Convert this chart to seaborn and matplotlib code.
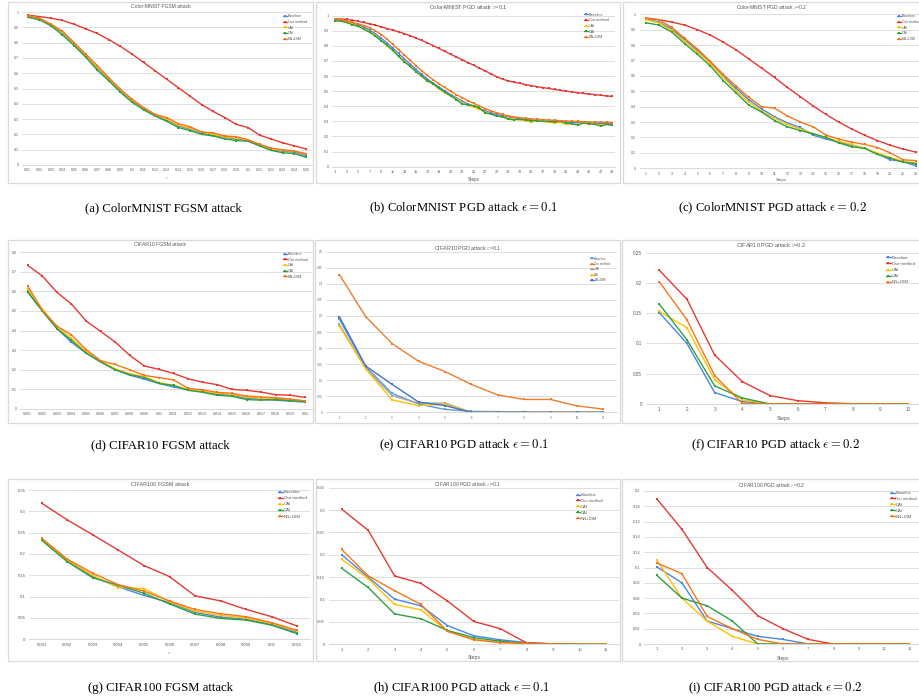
import numpy as np
import pandas as pd
import matplotlib
matplotlib.use("Agg")
import matplotlib.pyplot as plt
import seaborn as sns
from matplotlib.patches import Rectangle

sns.set_theme(style="white")
plt.rcParams['font.family'] = ['Liberation Sans', 'DejaVu Sans']
plt.rcParams['mathtext.fontset'] = 'cm'

METHODS = ["Baseline", "Our method", "UAI", "CAI", "NN+DIM"]
COLORS = ["#4a86e8", "#e53935", "#ffc000", "#2ea043", "#f5761a"]
COLORS_E = ["#5b9bd5", "#ed7d31", "#a5a5a5", "#ffc000", "#4472c4"]

# ---------------- (a) Color-MNIST FGSM ----------------
eps_a = [0.01, 0.02, 0.03, 0.04, 0.05, 0.06, 0.07, 0.08, 0.09, 0.10, 0.11, 0.12, 0.13,
         0.14, 0.15, 0.16, 0.17, 0.18, 0.19, 0.20, 0.21, 0.22, 0.23, 0.24, 0.25]
base_a = [0.97, 0.955, 0.915, 0.865, 0.79, 0.715, 0.635, 0.56, 0.485, 0.42, 0.37, 0.325, 0.295,
          0.255, 0.235, 0.21, 0.195, 0.18, 0.17, 0.16, 0.13, 0.1, 0.09, 0.085, 0.06]
ours_a = [0.98, 0.97, 0.96, 0.945, 0.92, 0.89, 0.86, 0.82, 0.775, 0.725, 0.67, 0.615, 0.56,
          0.505, 0.45, 0.395, 0.35, 0.31, 0.265, 0.245, 0.195, 0.17, 0.145, 0.125, 0.105]
uai_a = [0.975, 0.96, 0.92, 0.87, 0.795, 0.72, 0.64, 0.565, 0.49, 0.425, 0.375, 0.33, 0.3,
         0.26, 0.24, 0.215, 0.2, 0.185, 0.175, 0.165, 0.135, 0.105, 0.095, 0.09, 0.07]
cai_a = [0.965, 0.95, 0.91, 0.85, 0.78, 0.705, 0.62, 0.55, 0.475, 0.41, 0.36, 0.32, 0.285,
         0.245, 0.225, 0.2, 0.19, 0.17, 0.16, 0.155, 0.125, 0.095, 0.08, 0.075, 0.05]
nndim_a = [0.975, 0.96, 0.92, 0.875, 0.8, 0.725, 0.65, 0.57, 0.495, 0.43, 0.375, 0.33, 0.31,
           0.27, 0.25, 0.215, 0.21, 0.19, 0.185, 0.165, 0.135, 0.11, 0.1, 0.09, 0.075]

# ---------------- (b) Color-MNIST PGD eps=0.1 ----------------
steps_b = list(range(1, 50))
base_b = [0.975, 0.97, 0.962, 0.952, 0.94, 0.925, 0.905, 0.88, 0.85, 0.82,
          0.785, 0.75, 0.715, 0.68, 0.645, 0.612, 0.58, 0.553, 0.527, 0.502,
          0.478, 0.456, 0.435, 0.416, 0.4, 0.385, 0.37, 0.357, 0.346, 0.336,
          0.328, 0.322, 0.317, 0.312, 0.308, 0.305, 0.302, 0.3, 0.298, 0.296,
          0.294, 0.292, 0.29, 0.289, 0.288, 0.287, 0.286, 0.285, 0.284]
ours_b = [0.98, 0.978, 0.975, 0.97, 0.963, 0.955, 0.946, 0.937, 0.927, 0.915,
          0.905, 0.893, 0.882, 0.868, 0.853, 0.836, 0.82, 0.802, 0.783, 0.764,
          0.745, 0.727, 0.708, 0.69, 0.672, 0.653, 0.634, 0.615, 0.596, 0.58,
          0.568, 0.56, 0.552, 0.544, 0.537, 0.53, 0.524, 0.518, 0.512, 0.506,
          0.5, 0.495, 0.49, 0.486, 0.481, 0.477, 0.473, 0.469, 0.465]
uai_b = [0.97, 0.965, 0.955, 0.945, 0.93, 0.915, 0.895, 0.87, 0.835, 0.8,
         0.77, 0.735, 0.7, 0.665, 0.63, 0.6, 0.565, 0.545, 0.515, 0.49,
         0.47, 0.45, 0.425, 0.41, 0.395, 0.38, 0.36, 0.35, 0.335, 0.33,
         0.32, 0.315, 0.31, 0.305, 0.295, 0.305, 0.3, 0.295, 0.29, 0.295,
         0.28, 0.285, 0.28, 0.29, 0.28, 0.285, 0.275, 0.28, 0.275]
cai_b = [0.965, 0.965, 0.955, 0.94, 0.93, 0.91, 0.89, 0.865, 0.835, 0.805,
         0.77, 0.73, 0.695, 0.665, 0.63, 0.6, 0.57, 0.55, 0.52, 0.495,
         0.47, 0.445, 0.415, 0.41, 0.405, 0.39, 0.355, 0.35, 0.335, 0.33,
         0.315, 0.31, 0.315, 0.31, 0.305, 0.305, 0.3, 0.3, 0.295, 0.3,
         0.29, 0.285, 0.275, 0.29, 0.285, 0.28, 0.27, 0.28, 0.275]
nndim_b = [0.98, 0.975, 0.965, 0.955, 0.945, 0.935, 0.92, 0.9, 0.875, 0.845,
           0.81, 0.775, 0.74, 0.705, 0.67, 0.635, 0.605, 0.575, 0.55, 0.525,
           0.5, 0.477, 0.457, 0.438, 0.42, 0.402, 0.385, 0.37, 0.357, 0.346,
           0.337, 0.33, 0.325, 0.32, 0.317, 0.314, 0.311, 0.309, 0.307, 0.305,
           0.303, 0.301, 0.3, 0.298, 0.297, 0.295, 0.294, 0.293, 0.292]

# ---------------- (c) Color-MNIST PGD eps=0.2 ----------------
steps_c = list(range(1, 23))
base_c = [0.97, 0.95, 0.905, 0.835, 0.765, 0.69, 0.6, 0.52, 0.445, 0.385, 0.335,
          0.295, 0.265, 0.215, 0.19, 0.17, 0.15, 0.13, 0.095, 0.055, 0.045, 0.015]
ours_c = [0.975, 0.965, 0.95, 0.93, 0.9, 0.865, 0.82, 0.77, 0.71, 0.65, 0.59,
          0.525, 0.465, 0.405, 0.35, 0.3, 0.255, 0.215, 0.18, 0.15, 0.125, 0.105]
uai_c = [0.965, 0.945, 0.895, 0.825, 0.755, 0.68, 0.59, 0.505, 0.43, 0.37, 0.325,
         0.285, 0.255, 0.225, 0.2, 0.175, 0.155, 0.13, 0.1, 0.07, 0.045, 0.035]
cai_c = [0.945, 0.93, 0.885, 0.81, 0.74, 0.665, 0.57, 0.49, 0.41, 0.365, 0.31,
         0.27, 0.245, 0.225, 0.2, 0.165, 0.14, 0.13, 0.09, 0.065, 0.04, 0.03]
nndim_c = [0.975, 0.965, 0.915, 0.845, 0.775, 0.695, 0.61, 0.535, 0.46, 0.4, 0.39,
           0.34, 0.3, 0.27, 0.215, 0.19, 0.17, 0.155, 0.135, 0.1, 0.055, 0.05]

# ---------------- (d) CIFAR10 FGSM ----------------
eps_d = [0.001, 0.002, 0.003, 0.004, 0.005, 0.006, 0.007, 0.008, 0.009, 0.010,
         0.011, 0.012, 0.013, 0.014, 0.015, 0.016, 0.017, 0.018, 0.019, 0.020]
base_d = [0.6, 0.5, 0.41, 0.34, 0.285, 0.24, 0.2, 0.172, 0.152, 0.13,
          0.112, 0.098, 0.088, 0.075, 0.07, 0.055, 0.05, 0.045, 0.04, 0.035]
ours_d = [0.732, 0.678, 0.595, 0.535, 0.449, 0.395, 0.341, 0.273, 0.219, 0.202,
          0.181, 0.154, 0.136, 0.124, 0.1, 0.095, 0.086, 0.073, 0.07, 0.059]
uai_d = [0.61, 0.51, 0.42, 0.36, 0.295, 0.245, 0.205, 0.18, 0.165, 0.135,
         0.12, 0.1, 0.09, 0.08, 0.075, 0.06, 0.055, 0.055, 0.045, 0.04]
cai_d = [0.595, 0.5, 0.41, 0.35, 0.285, 0.24, 0.2, 0.175, 0.16, 0.13,
         0.12, 0.095, 0.085, 0.07, 0.065, 0.048, 0.045, 0.048, 0.042, 0.038]
nndim_d = [0.627, 0.503, 0.422, 0.378, 0.303, 0.246, 0.227, 0.2, 0.171, 0.16,
           0.148, 0.105, 0.097, 0.085, 0.08, 0.066, 0.061, 0.058, 0.05, 0.042]

# ---------------- (e) CIFAR10 PGD eps=0.1 ----------------
steps_e = list(range(1, 12))
base_e = [0.29, 0.142, 0.059, 0.026, 0.009, 0.003, 0.002, 0.001, 0.0, 0.0, 0.0]
ours_e = [0.429, 0.298, 0.214, 0.159, 0.127, 0.087, 0.054, 0.04, 0.04, 0.02, 0.01]
uai_e = [0.274, 0.137, 0.052, 0.028, 0.029, 0.0, 0.0, 0.0, 0.0, 0.0, 0.0]
cai_e = [0.269, 0.135, 0.039, 0.021, 0.025, 0.0, 0.0, 0.0, 0.0, 0.0, 0.0]
nndim_e = [0.298, 0.144, 0.087, 0.032, 0.021, 0.0, 0.0, 0.0, 0.0, 0.0, 0.0]

# ---------------- (f) CIFAR10 PGD eps=0.2 ----------------
steps_f = list(range(1, 11))
base_f = [0.151, 0.1, 0.019, 0.004, 0.0, 0.0, 0.0, 0.0, 0.0, 0.0]
ours_f = [0.221, 0.173, 0.081, 0.037, 0.014, 0.0055, 0.002, 0.0005, 0.0, 0.0]
uai_f = [0.153, 0.126, 0.04, 0.007, 0.0, 0.0, 0.0, 0.0, 0.0, 0.0]
cai_f = [0.165, 0.106, 0.03, 0.01, 0.0, 0.0, 0.0, 0.0, 0.0, 0.0]
nndim_f = [0.202, 0.139, 0.047, 0.001, 0.0, 0.0, 0.0, 0.0, 0.0, 0.0]

# ---------------- (g) CIFAR100 FGSM ----------------
eps_g = [0.001, 0.002, 0.003, 0.004, 0.005, 0.006, 0.007, 0.008, 0.009, 0.010, 0.011]
base_g = [0.234, 0.185, 0.147, 0.123, 0.103, 0.086, 0.063, 0.052, 0.047, 0.035, 0.016]
ours_g = [0.319, 0.28, 0.245, 0.209, 0.173, 0.147, 0.102, 0.09, 0.07, 0.053, 0.031]
uai_g = [0.235, 0.186, 0.15, 0.121, 0.119, 0.088, 0.066, 0.056, 0.05, 0.037, 0.019]
cai_g = [0.232, 0.182, 0.144, 0.127, 0.108, 0.083, 0.059, 0.049, 0.045, 0.033, 0.013]
nndim_g = [0.237, 0.188, 0.155, 0.128, 0.113, 0.09, 0.07, 0.06, 0.053, 0.039, 0.021]

# ---------------- (h) CIFAR100 PGD eps=0.1 ----------------
steps_h = list(range(1, 12))
base_h = [0.2, 0.15, 0.101, 0.086, 0.042, 0.019, 0.01, 0.004, 0.001, 0.0, 0.0]
ours_h = [0.302, 0.255, 0.153, 0.136, 0.097, 0.051, 0.035, 0.003, 0.001, 0.0, 0.0]
uai_h = [0.19, 0.147, 0.089, 0.077, 0.029, 0.011, 0.004, 0.001, 0.0, 0.0, 0.0]
cai_h = [0.17, 0.127, 0.068, 0.057, 0.031, 0.015, 0.007, 0.002, 0.001, 0.0, 0.0]
nndim_h = [0.212, 0.153, 0.12, 0.089, 0.029, 0.01, 0.004, 0.002, 0.001, 0.0, 0.0]

# ---------------- (i) CIFAR100 PGD eps=0.2 ----------------
steps_i = list(range(1, 12))
base_i = [0.101, 0.08, 0.03, 0.02, 0.01, 0.006, 0.0, 0.0, 0.0, 0.0, 0.0]
ours_i = [0.19, 0.15, 0.1, 0.07, 0.037, 0.02, 0.006, 0.0, 0.0, 0.0, 0.0]
uai_i = [0.11, 0.06, 0.03, 0.01, 0.0, 0.0, 0.0, 0.0, 0.0, 0.0, 0.0]
cai_i = [0.09, 0.06, 0.05, 0.03, 0.0, 0.0, 0.0, 0.0, 0.0, 0.0, 0.0]
nndim_i = [0.106, 0.092, 0.036, 0.02, 0.006, 0.0, 0.0, 0.0, 0.0, 0.0, 0.0]

TITLES = ["Color-MNIST FGSM attack", r"Color-MNIST PGD attack $\varepsilon$=0.1",
          r"Color-MNIST PGD attack $\varepsilon$=0.2", "CIFAR10 FGSM attack",
          r"CIFAR10 PGD attack $\varepsilon$=0.1", r"CIFAR10 PGD attack $\varepsilon$=0.2",
          "CIFAR100 FGSM attack", r"CIFAR100 PGD attack $\varepsilon$=0.1",
          r"CIFAR100 PGD attack $\varepsilon$=0.2"]
CAPTIONS = ["(a) ColorMNIST FGSM attack", r"(b) ColorMNIST PGD attack $\epsilon = 0.1$",
            r"(c) ColorMNIST PGD attack $\epsilon = 0.2$", "(d) CIFAR10 FGSM attack",
            r"(e) CIFAR10 PGD attack $\epsilon = 0.1$", r"(f) CIFAR10 PGD attack $\epsilon = 0.2$",
            "(g) CIFAR100 FGSM attack", r"(h) CIFAR100 PGD attack $\epsilon = 0.1$",
            r"(i) CIFAR100 PGD attack $\epsilon = 0.2$"]

W, H = 919, 700
fig = plt.figure(figsize=(W / 100, H / 100), dpi=100)
fig.patch.set_facecolor("white")

GRID = "#d9d9d9"
TXT = "#595959"


def fx(x):
    return x / W


def fy(y):
    return 1 - y / H


panels = [
    dict(x=eps_a, cat=True, ys=[base_a, ours_a, uai_a, cai_a, nndim_a], ylim=(0, 1), ystep=0.1,
         axes=(21.9, 311.8, 12.0, 165.0), frame=(8, 313, 2, 183), ty=6.5, xlabel=r"$\varepsilon$", xly=178,
         tfs=3.6, kfs=2.5, lfs=2.6, leg=(0.9, 0.985), labels=METHODS, colors=COLORS),
    dict(x=steps_b, cat=False, xt=steps_b[::2], ys=[base_b, ours_b, uai_b, cai_b, nndim_b], ylim=(0, 1), ystep=0.1,
         axes=(332.1, 615.2, 15.7, 166.7), frame=(316, 620, 2, 183), ty=7, xlabel="Steps", xly=180,
         tfs=4.0, kfs=2.7, lfs=2.7, leg=(0.89, 1.02), labels=METHODS, colors=COLORS),
    dict(x=steps_c, cat=False, xt=steps_c, ys=[base_c, ours_c, uai_c, cai_c, nndim_c], ylim=(0, 1), ystep=0.1,
         axes=(639.6, 922.4, 14.3, 168.3), frame=(623, 921, 2, 183), ty=7, xlabel="Steps", xly=180,
         tfs=3.6, kfs=2.5, lfs=2.6, leg=(0.91, 1.0), labels=METHODS, colors=COLORS),
    dict(x=eps_d, cat=True, ys=[base_d, ours_d, uai_d, cai_d, nndim_d], ylim=(0, 0.8), ystep=0.1,
         axes=(20.4, 312.3, 252.0, 409.0), frame=(8, 313, 240, 423), ty=245, xlabel=None, xly=None,
         tfs=3.7, kfs=2.5, lfs=2.7, leg=(0.9, 1.0), labels=METHODS, colors=COLORS),
    dict(x=steps_e, cat=False, xt=steps_e, ys=[base_e, ours_e, uai_e, cai_e, nndim_e], ylim=(0, 0.5), ystep=0.05,
         axes=(326.1, 616.5, 251.7, 412.3), frame=(315, 620, 240, 423), ty=247.5, xlabel=None, xly=None,
         tfs=3.9, kfs=2.0, lfs=2.2, leg=(0.91, 0.97), labels=METHODS, colors=COLORS_E),
    dict(x=steps_f, cat=False, xt=steps_f, ys=[base_f, ours_f, uai_f, cai_f, nndim_f], ylim=(0, 0.25), ystep=0.05,
         axes=(645.5, 922.0, 252.7, 404.0), frame=(622, 921, 240, 423), ty=245, xlabel="Steps", xly=418,
         tfs=4.1, kfs=3.3, lfs=3.2, leg=(0.87, 0.98), labels=METHODS, colors=COLORS),
    dict(x=eps_g, cat=True, ys=[base_g, ours_g, uai_g, cai_g, nndim_g], ylim=(0, 0.35), ystep=0.05,
         axes=(28.9, 310.1, 490.0, 639.3), frame=(8, 313, 479, 661), ty=484, xlabel=r"$\varepsilon$", xly=653,
         tfs=3.9, kfs=3.1, lfs=3.2, leg=(0.886, 1.0), labels=METHODS, colors=COLORS),
    dict(x=steps_h, cat=False, xt=steps_h, ys=[base_h, ours_h, uai_h, cai_h, nndim_h], ylim=(0, 0.35), ystep=0.05,
         axes=(328.5, 619.2, 487.7, 644.3), frame=(316, 620, 479, 661), ty=483.5, xlabel="Steps", xly=658,
         tfs=3.7, kfs=3.0, lfs=3.0, leg=(0.85, 0.966), labels=METHODS, colors=COLORS),
    dict(x=steps_i, cat=False, xt=steps_i, ys=[base_i, ours_i, uai_i, cai_i, nndim_i], ylim=(0, 0.2), ystep=0.02,
         axes=(644.0, 922.0, 491.0, 644.0), frame=(622, 921, 479, 661), ty=485, xlabel="Steps", xly=658.3,
         tfs=3.7, kfs=2.8, lfs=3.0, leg=(0.885, 1.0), labels=METHODS, colors=COLORS),
]

CAP_POS = [(163, 208), (464, 208), (772, 208),
           (160, 445), (464, 445), (775, 445),
           (161, 688), (462, 688), (775, 688)]

for k, p in enumerate(panels):
    l, r, t, b = p["axes"]
    ax = fig.add_axes([fx(l), fy(b), fx(r) - fx(l), fy(t) - fy(b)])
    ax.set_facecolor("none")
    fl, fr, ft, fb = p["frame"]
    fig.patches.append(Rectangle((fx(fl), fy(fb)), fx(fr) - fx(fl), fy(ft) - fy(fb),
                                 transform=fig.transFigure, fill=False,
                                 edgecolor=GRID, linewidth=0.9, zorder=0))
    if p["cat"]:
        xpos = np.arange(len(p["x"]))
        xlabels = [f"{v:g}" for v in p["x"]]
    else:
        xpos = np.array(p["x"])
    for name, vals, col in zip(p["labels"], p["ys"], p["colors"]):
        sns.lineplot(x=xpos, y=vals, color=col, marker="s", markersize=1.7,
                     markeredgewidth=0, linewidth=1.0, label=name, ax=ax, sort=False)
    ax.set_ylim(*p["ylim"])
    nt = int(round(p["ylim"][1] / p["ystep"]))
    yt = [round(i * p["ystep"], 3) for i in range(nt + 1)]
    ax.set_yticks(yt)
    ax.set_yticklabels([f"{v:g}" for v in yt])
    if p["cat"]:
        ax.set_xlim(-0.5, len(xpos) - 0.5)
        ax.set_xticks(xpos)
        ax.set_xticklabels(xlabels)
    else:
        ax.set_xlim(xpos[0] - 0.5, xpos[-1] + 0.5)
        ax.set_xticks(p["xt"])
        ax.set_xticklabels([str(v) for v in p["xt"]])
    ax.set_xlabel("")
    ax.set_ylabel("")
    ax.yaxis.grid(True, color=GRID, linewidth=0.6)
    ax.xaxis.grid(False)
    ax.set_axisbelow(True)
    for s in ["top", "right", "left"]:
        ax.spines[s].set_visible(False)
    ax.spines["bottom"].set_color(GRID)
    ax.spines["bottom"].set_linewidth(0.7)
    ax.tick_params(length=0, labelsize=p["kfs"], labelcolor=TXT, pad=2.5)
    handles, labs = ax.get_legend_handles_labels()
    leg = ax.legend(handles, labs, loc="upper left", bbox_to_anchor=p["leg"], frameon=False,
                    fontsize=p["lfs"], handlelength=1.1, handletextpad=0.2, labelspacing=0.45,
                    borderpad=0, borderaxespad=0)
    for txt in leg.get_texts():
        txt.set_color(TXT)
    fig.text(fx((fl + fr) / 2), fy(p["ty"]), TITLES[k], ha="center", va="center",
             fontsize=p["tfs"], color=TXT)
    if p["xlabel"]:
        fig.text(fx((l + r) / 2), fy(p["xly"]), p["xlabel"], ha="center", va="center",
                 fontsize=p["kfs"] + 0.6, color=TXT)
    cx, cy = CAP_POS[k]
    fig.text(fx(cx), fy(cy), CAPTIONS[k], ha="center", va="center", fontsize=9.2,
             family=["Liberation Serif", "DejaVu Serif"], color="black")

fig.savefig("out.png", dpi=100, facecolor="white")
